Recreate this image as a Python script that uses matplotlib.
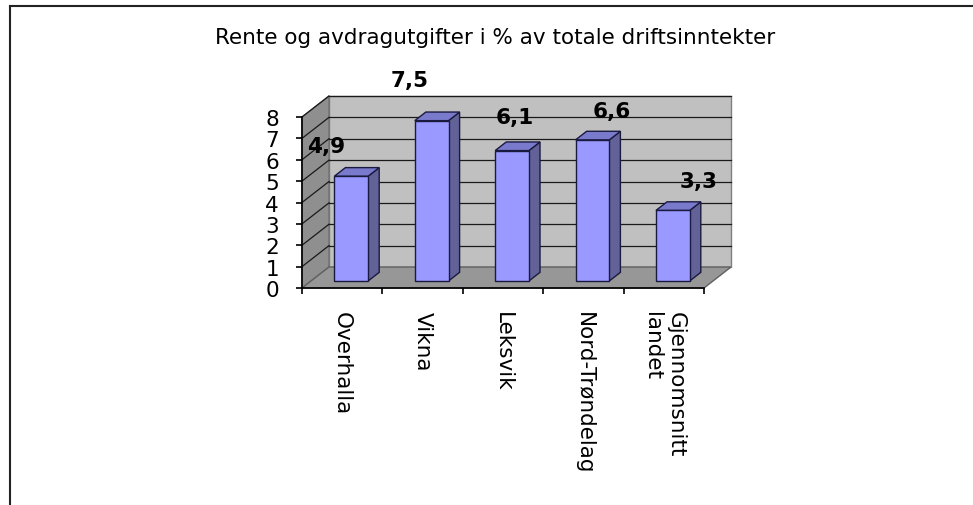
import matplotlib
matplotlib.use("Agg")
import matplotlib.pyplot as plt
from matplotlib.patches import Polygon
from matplotlib.lines import Line2D

# --- Data ---
categories = ["Overhalla", "Vikna", "Leksvik", "Nord-Trøndelag", "Gjennomsnitt\nlandet"]
values = [4.9, 7.5, 6.1, 6.6, 3.3]
value_labels = ["4,9", "7,5", "6,1", "6,6", "3,3"]
y_ticks = [0, 1, 2, 3, 4, 5, 6, 7, 8]
title_text = "Rente og avdragutgifter i % av totale driftsinntekter"

# --- Style / layout (pixels of the 973x506 picture) ---
W, H = 973, 506
ORIGIN_X, ORIGIN_Y = 302, 289      # front-left corner of the floor
PX_X, PX_Y = 80.4, 21.375          # pixels per category / per unit
DX, DY = 27 / PX_X, 21 / PX_Y      # depth offset of the back wall, data units
D0, D1 = 0.335, 0.745              # bar depth span (fraction of DX, DY)
BAR_W = 0.42
# where Excel put the value labels, offset from bar top centre (pixels)
label_offsets = [(-25, 30), (-22, 41), (3, 34), (19, 29), (26, 29)]

FS = 15.5
plt.rcParams['font.family'] = ['DejaVu Sans']

fig = plt.figure(figsize=(W / 100, H / 100), dpi=100)
fig.patch.set_facecolor("white")

x0, x1 = -0.15, 5.6
y0, y1 = -0.6, 9.4
ax = fig.add_axes([
    (ORIGIN_X + x0 * PX_X) / W,
    1 - (ORIGIN_Y - y0 * PX_Y) / H,
    (x1 - x0) * PX_X / W,
    (y1 - y0) * PX_Y / H,
])
ax.set_xlim(x0, x1)
ax.set_ylim(y0, y1)
ax.set_facecolor("none")

n = len(categories)
ymax = y_ticks[-1]

# back wall
ax.add_patch(Polygon([(DX, DY), (n + DX, DY), (n + DX, ymax + DY), (DX, ymax + DY)],
                     closed=True, facecolor="#c0c0c0", edgecolor="#808080", lw=1, zorder=1))
# side wall
ax.add_patch(Polygon([(0, 0), (DX, DY), (DX, ymax + DY), (0, ymax)],
                     closed=True, facecolor="#8f8f8f", edgecolor="#707070", lw=1, zorder=1))
# floor
ax.add_patch(Polygon([(0, 0), (n, 0), (n + DX, DY), (DX, DY)],
                     closed=True, facecolor="#979797", edgecolor="#606060", lw=1, zorder=1))

# gridlines on the back wall and side wall
for t in y_ticks[1:]:
    ax.plot([DX, n + DX], [t + DY, t + DY], color="#1a1a1a", lw=0.9, zorder=2)
    ax.plot([0, DX], [t, t + DY], color="#1a1a1a", lw=0.9, zorder=2)

# bars
for i, v in enumerate(values):
    left = i + 0.5 - BAR_W / 2 + D0 * DX
    right = left + BAR_W
    base = D0 * DY
    ddx, ddy = (D1 - D0) * DX, (D1 - D0) * DY
    front = [(left, base), (right, base), (right, base + v), (left, base + v)]
    side = [(right, base), (right + ddx, base + ddy), (right + ddx, base + v + ddy), (right, base + v)]
    top = [(left, base + v), (right, base + v), (right + ddx, base + v + ddy), (left + ddx, base + v + ddy)]
    ax.add_patch(Polygon(side, closed=True, facecolor="#626299", edgecolor="#1a1a40", lw=1, zorder=3))
    ax.add_patch(Polygon(top, closed=True, facecolor="#7a7acc", edgecolor="#1a1a40", lw=1, zorder=3))
    ax.add_patch(Polygon(front, closed=True, facecolor="#9999ff", edgecolor="#1a1a40", lw=1, zorder=3))
    dx, dy = label_offsets[i]
    ax.annotate(value_labels[i], xy=(i + 0.5 + D0 * DX, base + v), xytext=(dx, dy),
                textcoords="offset pixels", ha="center", va="center",
                fontsize=FS, fontweight="bold", zorder=5, annotation_clip=False)

# axes: front edges with ticks
for side_name in ("top", "right"):
    ax.spines[side_name].set_visible(False)
ax.spines["left"].set_position(("data", 0))
ax.spines["left"].set_bounds(0, ymax)
ax.spines["bottom"].set_position(("data", 0))
ax.spines["bottom"].set_bounds(0, n)
for s in ("left", "bottom"):
    ax.spines[s].set_color("black")
    ax.spines[s].set_linewidth(1.2)
    ax.spines[s].set_zorder(4)

ax.set_yticks(y_ticks)
ax.set_yticklabels([str(t) for t in y_ticks])
ax.tick_params(axis="y", direction="out", length=4.5, width=1.2, pad=12, labelsize=FS)

ax.set_xticks(range(n + 1))
ax.set_xticklabels([""] * (n + 1))
ax.set_xticks([i + 0.5 for i in range(n)], minor=True)
ax.set_xticklabels(categories, minor=True, rotation=-90, fontsize=FS)
ax.tick_params(axis="x", which="major", direction="out", length=4.5, width=1.2)
ax.tick_params(axis="x", which="minor", length=0, pad=16.5)
for lab in ax.get_xticklabels(minor=True):
    lab.set_multialignment("left")

# title
fig.text(495.5 / W, 1 - 43.5 / H, title_text, ha="center", va="baseline", fontsize=FS)

# frame lines of the chart area
fig.add_artist(Line2D([9.5 / W, 1.0], [1 - 7 / H, 1 - 7 / H], transform=fig.transFigure,
                      color="#222222", lw=1.5))
fig.add_artist(Line2D([9.5 / W, 9.5 / W], [1 - 7 / H, 0.0], transform=fig.transFigure,
                      color="#222222", lw=1.5))

fig.savefig("out.png", dpi=100)
